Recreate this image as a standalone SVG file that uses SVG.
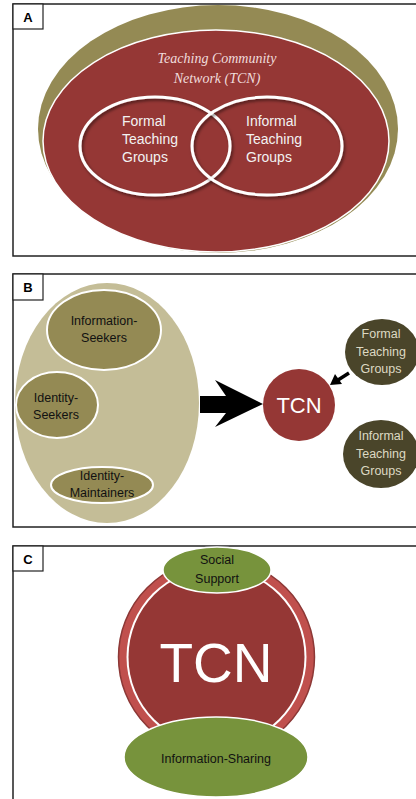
<svg xmlns="http://www.w3.org/2000/svg" width="416" height="799" viewBox="0 0 416 799">
<defs>
<filter id="sh" x="-20%" y="-20%" width="140%" height="140%">
<feDropShadow dx="1.5" dy="2" stdDeviation="1.5" flood-color="#000" flood-opacity="0.5"/>
</filter>
</defs>
<style>
.frame{fill:#fff;stroke:#222;stroke-width:1.5}
.lbl{fill:#fff;stroke:#222;stroke-width:1.2}
.lt{font-family:"Liberation Sans",Arial,sans-serif;font-weight:bold;font-size:13px;fill:#000;text-anchor:middle}
.sans{font-family:"Liberation Sans",Arial,sans-serif}
.venn{fill:none;stroke:#fff;stroke-width:3;filter:url(#sh)}
.wt{fill:#f2f2f2;font-size:14px}
.bt{fill:#111;font-size:12.5px;text-anchor:middle}
.dt{fill:#ddd9c3;font-size:12.5px;text-anchor:middle}
.olive{fill:#948a54;stroke:#fff;stroke-width:2}
.dark{fill:#4a452a}
.green{fill:#77933c;stroke:#fff;stroke-width:1.5}
</style>
<rect width="416" height="799" fill="#fff"/>
<g id="panelA">
<rect class="frame" x="13" y="4" width="410" height="252"/>
<g id="tcnA">
<ellipse cx="218" cy="129" rx="180" ry="124" fill="#948a54"/>
<ellipse cx="216" cy="141" rx="173" ry="111" fill="#953735" stroke="#fff" stroke-width="1.5"/>
<text x="217" y="63" text-anchor="middle" font-family="Liberation Serif,Times New Roman,serif" font-style="italic" font-size="14" fill="#f0dcdc">Teaching Community</text>
<text x="217" y="83" text-anchor="middle" font-family="Liberation Serif,Times New Roman,serif" font-style="italic" font-size="14" fill="#f0dcdc">Network (TCN)</text>
</g>
<g id="formalA">
<ellipse class="venn" cx="155" cy="146" rx="75" ry="49"/>
<text class="sans wt" x="122" y="126">Formal</text>
<text class="sans wt" x="122" y="144">Teaching</text>
<text class="sans wt" x="122" y="162">Groups</text>
</g>
<g id="informalA">
<ellipse class="venn" cx="267" cy="146" rx="75" ry="49"/>
<text class="sans wt" x="246" y="126">Informal</text>
<text class="sans wt" x="246" y="144">Teaching</text>
<text class="sans wt" x="246" y="162">Groups</text>
</g>
<rect class="lbl" x="13" y="4" width="30" height="25"/>
<text class="lt" x="28" y="22">A</text>
</g>
<g id="panelB">
<rect class="frame" x="13" y="274" width="410" height="253"/>
<g id="users">
<ellipse cx="107" cy="403" rx="92" ry="120" fill="#c4bd97"/>
</g>
<g id="infoSeekers">
<ellipse class="olive" cx="104" cy="330" rx="57" ry="40"/>
<text class="sans bt" x="104" y="325">Information-</text>
<text class="sans bt" x="104" y="342">Seekers</text>
</g>
<g id="identitySeekers">
<ellipse class="olive" cx="57" cy="405" rx="41" ry="33"/>
<text class="sans bt" x="56" y="402">Identity-</text>
<text class="sans bt" x="56" y="419">Seekers</text>
</g>
<g id="identityMaintainers">
<ellipse class="olive" cx="102" cy="485" rx="51" ry="18"/>
<text class="sans bt" x="102" y="480">Identity-</text>
<text class="sans bt" x="102" y="497">Maintainers</text>
</g>
<g id="tcnB">
<circle cx="299" cy="405" r="36" fill="#953735"/>
<text class="sans" x="299" y="413" text-anchor="middle" font-size="22" fill="#fff">TCN</text>
</g>
<g id="formalB">
<ellipse class="dark" cx="382" cy="352" rx="37" ry="33"/>
<text class="sans dt" x="381" y="338">Formal</text>
<text class="sans dt" x="381" y="356">Teaching</text>
<text class="sans dt" x="381" y="373">Groups</text>
</g>
<g id="informalB">
<ellipse class="dark" cx="381" cy="454" rx="38" ry="34"/>
<text class="sans dt" x="381" y="440">Informal</text>
<text class="sans dt" x="381" y="458">Teaching</text>
<text class="sans dt" x="381" y="475">Groups</text>
</g>
<g id="connectors">
<polygon points="200,396 226,396 215,380 263,404 215,427 226,413 200,413" fill="#000"/>
<line x1="349" y1="373" x2="338" y2="380" stroke="#000" stroke-width="3.5"/>
<polygon points="330,385 335,374 342,384" fill="#000"/>
</g>
<rect class="lbl" x="13" y="274" width="30" height="26"/>
<text class="lt" x="28" y="292">B</text>
</g>
<g id="panelC">
<rect class="frame" x="13" y="546" width="410" height="260"/>
<g id="tcnC">
<circle cx="216.5" cy="657" r="98" fill="#c0504d" stroke="#8c3836" stroke-width="1.5"/>
<circle cx="216.5" cy="657" r="90" fill="#fff"/>
<circle cx="216.5" cy="657" r="88" fill="#953735"/>
<text class="sans" x="216" y="682" text-anchor="middle" font-size="55" fill="#fff">TCN</text>
</g>
<g id="socialSupport">
<ellipse class="green" cx="217" cy="570" rx="54" ry="23"/>
<text class="sans bt" x="217" y="564" font-size="13">Social</text>
<text class="sans bt" x="217" y="583" font-size="13">Support</text>
</g>
<g id="infoSharing">
<ellipse class="green" cx="216" cy="757" rx="92" ry="40"/>
<text class="sans bt" x="216" y="763" font-size="13.5">Information-Sharing</text>
</g>
<rect class="lbl" x="13" y="546" width="30" height="25"/>
<text class="lt" x="28" y="564">C</text>
</g>
</svg>
